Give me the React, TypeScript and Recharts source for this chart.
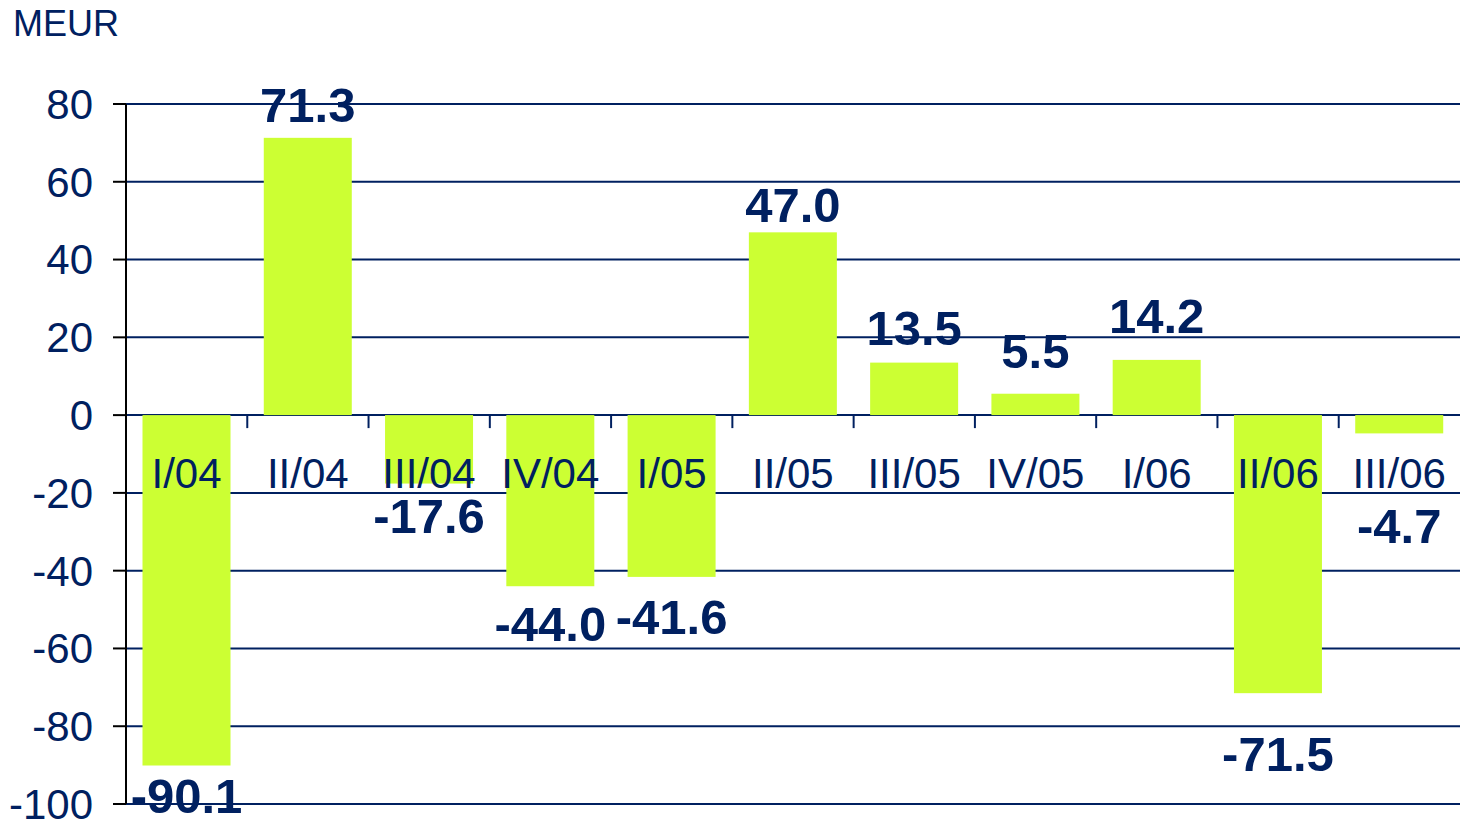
import { BarChart, Bar, XAxis, YAxis, CartesianGrid } from "recharts"

const quarters = ["I/04", "II/04", "III/04", "IV/04", "I/05", "II/05", "III/05", "IV/05", "I/06", "II/06", "III/06"]
const values = [-90.1, 71.3, -17.6, -44.0, -41.6, 47.0, 13.5, 5.5, 14.2, -71.5, -4.7]
const yTicks = [-100, -80, -60, -40, -20, 0, 20, 40, 60, 80]

// value labels were nudged by hand in the original: distance (px) from bar end to text baseline
const labelGap = [47, 16, 49, 55, 57, 10, 18, 26, 27, 78, 110]

const data = quarters.map((q, i) => ({ q, v: values[i] }))

const NAVY = "#002060"
const LIME = "#CCFF33"
const FONT = "'Liberation Sans', Arial, sans-serif"
const GAP = 16.5

// bar + its category label, value label and the little axis tick on its left
function BarShape(props: any) {
  const { x, y, width, height, payload, index } = props
  const top = Math.min(y, y + height)
  const h = Math.abs(height)
  const pos = payload.v >= 0
  const zero = pos ? top + h : top
  const cx = x + width / 2
  const gap = labelGap[index] ?? 16
  return (
    <g>
      <rect x={x} y={top} width={width} height={h} fill={LIME} />
      <line x1={x - GAP} x2={x - GAP} y1={zero} y2={zero + 13} stroke={NAVY} strokeWidth={2} />
      <text x={cx} y={zero + 73} textAnchor="middle" fontSize={42} fill={NAVY} fontFamily={FONT}>
        {payload.q}
      </text>
      <text
        x={cx}
        y={pos ? top - gap : top + h + gap}
        textAnchor="middle"
        fontSize={49}
        fontWeight="bold"
        fill={NAVY}
        fontFamily={FONT}
      >
        {payload.v.toFixed(1)}
      </text>
    </g>
  )
}

export default function App() {
  return (
    <div style={{ position: "absolute", left: 0, top: 0, width: 1460, height: 822, background: "#fff" }}>
      <div
        style={{
          position: "absolute",
          left: 13,
          top: 3,
          fontFamily: FONT,
          fontSize: 36,
          color: NAVY,
        }}
      >
        MEUR
      </div>
      <BarChart
        width={1460}
        height={822}
        data={data}
        margin={{ top: 104, right: 0, bottom: 18, left: 0 }}
        barCategoryGap={GAP}
      >
        <CartesianGrid vertical={false} stroke={NAVY} strokeWidth={2} />
        <XAxis dataKey="q" hide />
        <YAxis
          type="number"
          domain={[-100, 80]}
          ticks={yTicks}
          interval={0}
          width={126}
          tickSize={13}
          tickMargin={20}
          axisLine={{ stroke: "#000", strokeWidth: 2 }}
          tickLine={{ stroke: "#000", strokeWidth: 2 }}
          tick={{ fill: NAVY, fontSize: 42, fontFamily: FONT }}
        />
        <Bar dataKey="v" fill={LIME} shape={BarShape} isAnimationActive={false} />
      </BarChart>
    </div>
  )
}
